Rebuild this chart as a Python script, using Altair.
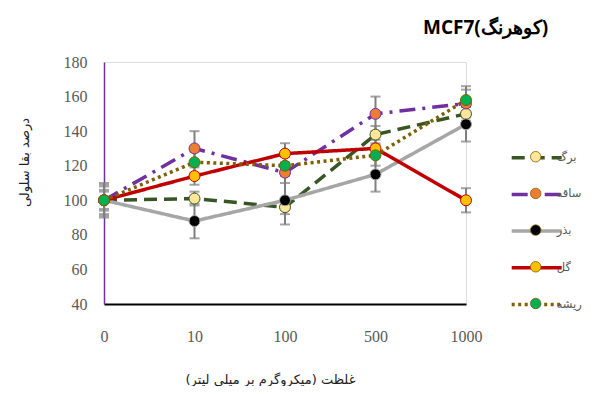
import altair as alt
import pandas as pd

doses = ["0", "10", "100", "500", "1000"]
series = ["برگ", "ساقه", "بذر", "گل", "ریشه"]

barg = [100, 101, 96, 138, 150]
saghe = [100, 130, 116, 150, 156]
bazr = [100, 88, 100, 115, 144]
gol = [100, 114, 127, 130, 100]
risheh = [100, 122, 120, 126, 158]

barg_err = [5, 4, 4, 5, 4]
saghe_err = [8, 10, 6, 10, 8]
bazr_err = [10, 10, 14, 10, 10]
gol_err = [6, 5, 6, 5, 7]
risheh_err = [9, 6, 5, 6, 8]

y_ticks = [40, 60, 80, 100, 120, 140, 160, 180]

line_colors = ["#375623", "#7030a0", "#a6a6a6", "#c00000", "#7f6000"]
marker_colors = ["#ffe699", "#ed7d31", "#000000", "#ffc000", "#00b050"]
dashes = [[13, 7], [16, 7, 3, 7], [1, 0], [1, 0], [3, 3.5]]

values = [barg, saghe, bazr, gol, risheh]
errors = [barg_err, saghe_err, bazr_err, gol_err, risheh_err]

rows = []
for s, vals, errs in zip(series, values, errors):
    for d, v, e in zip(doses, vals, errs):
        rows.append({"s": s, "s2": s, "dose": d, "value": v, "lo": v - e, "hi": v + e})
df = pd.DataFrame(rows)

xenc = alt.X(
    "dose:O", sort=doses,
    scale=alt.Scale(type="point", padding=0),
    axis=alt.Axis(
        title="غلظت (میکروگرم بر میلی لیتر)\u200f",
        titleFont="DejaVu Sans", titleFontSize=13, titleFontWeight="normal",
        titleColor="#222222", titleX=166, titleY=75, titleBaseline="middle",
        labelAngle=0, labelFont="Liberation Serif", labelFontSize=16,
        labelColor="#595959", labelPadding=24, ticks=False,
        domainColor="#000000", domainWidth=2, labelFlush=False,
        labelOverlap=False, grid=False,
    ),
)

yscale = alt.Scale(domain=[40, 180], nice=False, zero=False)
yaxis = alt.Axis(
    title="درصد بقا سلولی",
    titleFont="DejaVu Sans", titleFontSize=13, titleFontWeight="normal",
    titleColor="#222222", titleX=-80, titleY=100, titleAngle=-90,
    titleAlign="center", titleBaseline="middle",
    values=y_ticks, labelFont="Liberation Serif", labelFontSize=16,
    labelColor="#595959", labelPadding=17, ticks=False, grid=False,
    domainColor="#7030a0", domainWidth=1.5,
)

stroke_legend = alt.Legend(
    orient="none", legendX=425.7, legendY=88.7, title=None, padding=0,
    symbolType="M-5,0H5", symbolSize=100, symbolStrokeWidth=3.5,
    labelFontSize=11.5, labelFont="DejaVu Sans", labelColor="#595959",
    labelOffset=13, rowPadding=22.7, zindex=0, symbolOffset=0,
)
fill_legend = alt.Legend(
    orient="none", legendX=425.7, legendY=88.7, title=None, padding=0,
    symbolType="circle", symbolSize=110, symbolStrokeWidth=0.8,
    symbolStrokeColor="#7f6000", symbolOpacity=1,
    labelFontSize=11.5, labelExpr="''", rowPadding=22.7, zindex=1, symbolOffset=0,
)

stroke_enc = alt.Stroke("s:N", scale=alt.Scale(domain=series, range=line_colors), legend=stroke_legend)
dash_enc = alt.StrokeDash("s:N", scale=alt.Scale(domain=series, range=dashes), legend=stroke_legend)

base = alt.Chart(df)

lines = base.mark_line(strokeWidth=3.5).encode(
    x=xenc,
    y=alt.Y("value:Q", scale=yscale, axis=yaxis),
    stroke=stroke_enc,
    strokeDash=dash_enc,
    order=alt.Order("dose_idx:Q"),
).transform_calculate(
    dose_idx="indexof(%s, datum.dose)" % str(doses)
)

err_rules = base.mark_rule(color="#7f7f7f", strokeWidth=2).encode(
    x=xenc,
    y=alt.Y("lo:Q", scale=yscale, axis=yaxis),
    y2="hi:Q",
)
cap_lo = base.mark_tick(color="#7f7f7f", thickness=2, size=10).encode(
    x=xenc, y=alt.Y("lo:Q", scale=yscale, axis=yaxis)
)
cap_hi = base.mark_tick(color="#7f7f7f", thickness=2, size=10).encode(
    x=xenc, y=alt.Y("hi:Q", scale=yscale, axis=yaxis)
)

points = base.mark_point(filled=True, size=120, opacity=1, strokeWidth=1).encode(
    x=xenc,
    y=alt.Y("value:Q", scale=yscale, axis=yaxis),
    fill=alt.Fill("s2:N", sort=series, scale=alt.Scale(range=marker_colors), legend=fill_legend),
    stroke=stroke_enc,
)

chart = alt.layer(lines, err_rules, cap_lo, cap_hi, points).properties(
    width=362, height=242,
    autosize=alt.AutoSizeParams(type="none"),
    padding={"left": 96, "top": 54, "right": 121, "bottom": 82},
    title=alt.TitleParams(
        "MCF7(کوهرنگ)", anchor="start", dx=405, offset=16,
        fontSize=19, fontWeight="bold", font="Open Sans", color="#000000",
    ),
).configure_view(stroke=None).configure(background="white")

chart.save("out.html", embed_options={"renderer": "svg", "actions": False})
